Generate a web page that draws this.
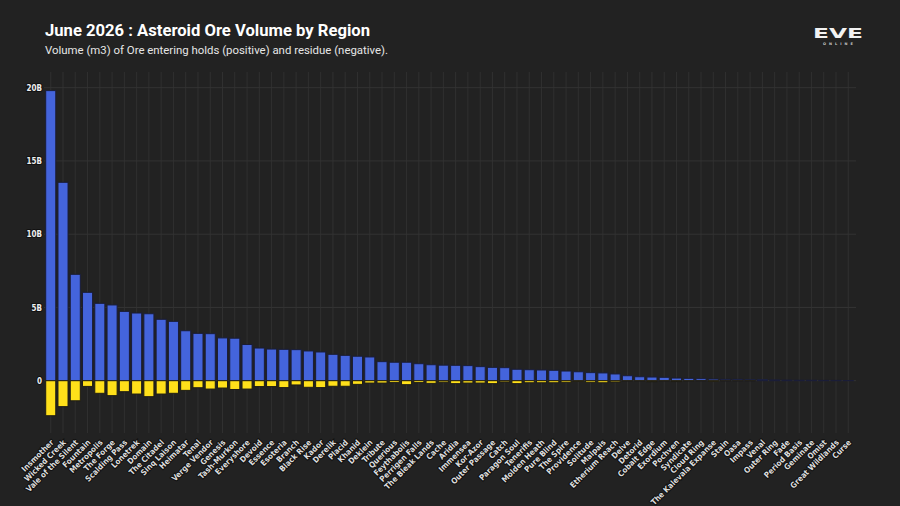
<html>
  <head>
    <meta charset="utf-8" />
    <script src="https://d3js.org/d3.v7.min.js"></script>
    <style>
      html, body { margin: 0; padding: 0; background: #222222; }
      #chart { width: 900px; height: 506px; }
    </style>
  </head>
  <body>
    <div id="chart"></div>

    <script>
      const regions = [
        'Insmother', 'Wicked Creek', 'Vale of the Silent', 'Fountain', 'Metropolis', 'The Forge',
        'Scalding Pass', 'Lonetrek', 'Domain', 'The Citadel', 'Sinq Laison', 'Heimatar', 'Tenal',
        'Verge Vendor', 'Genesis', 'Tash-Murkon', 'Everyshore', 'Devoid', 'Essence', 'Esoteria',
        'Branch', 'Black Rise', 'Kador', 'Derelik', 'Placid', 'Khanid', 'Deklein', 'Tribute',
        'Querious', 'Feythabolis', 'Perrigen Falls', 'The Bleak Lands', 'Cache', 'Aridia',
        'Immensea', 'Kor-Azor', 'Outer Passage', 'Catch', 'Paragon Soul', 'Tenerifis',
        'Molden Heath', 'Pure Blind', 'The Spire', 'Providence', 'Solitude', 'Malpais',
        'Etherium Reach', 'Delve', 'Detorid', 'Cobalt Edge', 'Exordium', 'Pochven', 'Syndicate',
        'Cloud Ring', 'The Kalevala Expanse', 'Stain', 'Oasa', 'Impass', 'Venal', 'Outer Ring',
        'Fade', 'Period Basis', 'Geminate', 'Omist', 'Great Wildlands', 'Curse'
      ];

      // ore entering holds, billions of m3
      const oreVolume = [
        19.8, 13.54, 7.26, 6.03, 5.28, 5.17, 4.73, 4.62, 4.57, 4.19, 4.05, 3.41, 3.23,
        3.21, 2.92, 2.9, 2.47, 2.23, 2.16, 2.14, 2.12, 2.03, 1.96, 1.8, 1.73, 1.67, 1.62,
        1.3, 1.26, 1.26, 1.16, 1.09, 1.06, 1.05, 1.03, 0.96, 0.91, 0.89, 0.78, 0.75, 0.73,
        0.71, 0.66, 0.61, 0.55, 0.53, 0.46, 0.34, 0.27, 0.25, 0.23, 0.18, 0.16, 0.14, 0.11,
        0.09, 0.09, 0.07, 0.07, 0.05, 0.04, 0.03, 0.03, 0.02, 0.02, 0.01
      ];

      // residue, billions of m3
      const residueVolume = [
        -2.39, -1.77, -1.37, -0.39, -0.86, -1.02, -0.75, -0.91, -1.09, -0.91, -0.86, -0.66,
        -0.48, -0.57, -0.5, -0.6, -0.57, -0.4, -0.4, -0.47, -0.29, -0.45, -0.47, -0.38, -0.38,
        -0.25, -0.16, -0.16, -0.13, -0.27, -0.13, -0.18, -0.1, -0.2, -0.16, -0.16, -0.2, -0.09,
        -0.2, -0.14, -0.14, -0.14, -0.11, -0.05, -0.11, -0.14, -0.09, -0.02, -0.02, -0.07,
        -0.02, -0.06, -0.02, -0.01, -0.05, -0.01, -0.01, -0.01, 0, 0, 0, 0, 0, 0, 0, 0
      ];

      const yTickValues = [0, 5, 10, 15, 20];
      const yTickLabels = ['0', '5B', '10B', '15B', '20B'];

      const width = 900;
      const height = 506;
      const plot = { left: 44.6, right: 854.4, top: 72, bottom: 433 };

      const svg = d3
        .select('#chart')
        .append('svg')
        .attr('width', width)
        .attr('height', height);

      svg.append('rect').attr('width', width).attr('height', height).attr('fill', '#222222');

      const xScale = d3
        .scaleBand()
        .domain(regions)
        .range([plot.left, plot.right])
        .paddingInner(0.18)
        .paddingOuter(0.09);

      const yScale = d3
        .scaleLinear()
        .domain([-3.57, 21.07])
        .range([plot.bottom, plot.top]);

      // grid
      const grid = svg.append('g').attr('class', 'grid');
      grid
        .selectAll('line.v')
        .data(regions)
        .join('line')
        .attr('class', 'v')
        .attr('x1', (d) => xScale(d) + xScale.bandwidth() / 2)
        .attr('x2', (d) => xScale(d) + xScale.bandwidth() / 2)
        .attr('y1', plot.top)
        .attr('y2', plot.bottom)
        .attr('stroke', '#303030')
        .attr('stroke-width', 1);
      grid
        .selectAll('line.h')
        .data(yTickValues)
        .join('line')
        .attr('class', 'h')
        .attr('x1', 44)
        .attr('x2', 856)
        .attr('y1', (d) => yScale(d))
        .attr('y2', (d) => yScale(d))
        .attr('stroke', '#333333')
        .attr('stroke-width', 1);

      // bars
      const bars = svg.append('g').attr('class', 'bars');
      bars
        .selectAll('rect.ore')
        .data(regions)
        .join('rect')
        .attr('class', 'ore')
        .attr('x', (d) => xScale(d))
        .attr('width', xScale.bandwidth())
        .attr('y', (d, i) => yScale(oreVolume[i]))
        .attr('height', (d, i) => yScale(0) - yScale(oreVolume[i]))
        .attr('fill', '#4464dc')
        .attr('stroke', '#1a1d38')
        .attr('stroke-width', 1);
      bars
        .selectAll('rect.residue')
        .data(regions)
        .join('rect')
        .attr('class', 'residue')
        .attr('x', (d) => xScale(d))
        .attr('width', xScale.bandwidth())
        .attr('y', yScale(0))
        .attr('height', (d, i) => yScale(residueVolume[i]) - yScale(0))
        .attr('fill', '#ffe01a')
        .attr('stroke', '#1f1d14')
        .attr('stroke-width', (d, i) => (residueVolume[i] === 0 ? 0 : 1));

      // y axis
      const yAxis = d3
        .axisLeft(yScale)
        .tickValues(yTickValues)
        .tickFormat((d, i) => yTickLabels[i])
        .tickSize(0)
        .tickPadding(0);
      const yAxisSelection = svg
        .append('g')
        .attr('transform', `translate(42, 0)`)
        .call(yAxis);
      yAxisSelection.select('.domain').remove();
      yAxisSelection
        .selectAll('text')
        .attr('fill', '#eeeeee')
        .attr('stroke', '#111111')
        .attr('stroke-width', 2)
        .attr('paint-order', 'stroke')
        .style('font-family', "'DejaVu Sans Condensed', 'DejaVu Sans', sans-serif")
        .style('font-weight', 'bold')
        .style('font-size', '8px');

      // x labels
      svg
        .append('g')
        .selectAll('text')
        .data(regions)
        .join('text')
        .attr('transform', (d) => `translate(${xScale(d) + xScale.bandwidth() / 2 + 1.5}, 441) rotate(-45)`)
        .attr('text-anchor', 'end')
        .attr('dy', '0.35em')
        .attr('fill', '#dddddd')
        .attr('stroke', '#111111')
        .attr('stroke-width', 2)
        .attr('paint-order', 'stroke')
        .style('font-family', "'Liberation Sans Narrow', 'Arial Narrow', 'DejaVu Sans Condensed', sans-serif")
        .style('font-weight', 'bold')
        .style('font-size', '8px')
        .text((d) => d);

      // titles
      svg
        .append('text')
        .attr('x', 45)
        .attr('y', 36)
        .attr('fill', '#ffffff')
        .attr('textLength', 325)
        .attr('lengthAdjust', 'spacingAndGlyphs')
        .style('font-family', 'Roboto, sans-serif')
        .style('font-weight', 'bold')
        .style('font-size', '16.5px')
        .text('June 2026 : Asteroid Ore Volume by Region');
      svg
        .append('text')
        .attr('x', 45)
        .attr('y', 54)
        .attr('fill', '#e6e6e6')
        .attr('textLength', 343)
        .attr('lengthAdjust', 'spacingAndGlyphs')
        .style('font-family', 'Roboto, sans-serif')
        .style('font-size', '11px')
        .text('Volume (m3) of Ore entering holds (positive) and residue (negative).');

      // logo
      const logo = svg.append('g').attr('transform', 'translate(838, 0)');
      logo
        .append('text')
        .attr('y', 38)
        .attr('text-anchor', 'middle')
        .attr('fill', '#f2f2f2')
        .attr('textLength', 50)
        .attr('lengthAdjust', 'spacingAndGlyphs')
        .style('font-family', "'DejaVu Sans', sans-serif")
        .style('font-weight', 'bold')
        .style('font-size', '14px')
        .text('EVE');
      logo
        .append('text')
        .attr('y', 45)
        .attr('text-anchor', 'middle')
        .attr('fill', '#cccccc')
        .attr('textLength', 30)
        .attr('lengthAdjust', 'spacing')
        .style('font-family', "'DejaVu Sans', sans-serif")
        .style('font-weight', 'bold')
        .style('font-size', '3.5px')
        .text('ONLINE');
    </script>
  </body>
</html>
